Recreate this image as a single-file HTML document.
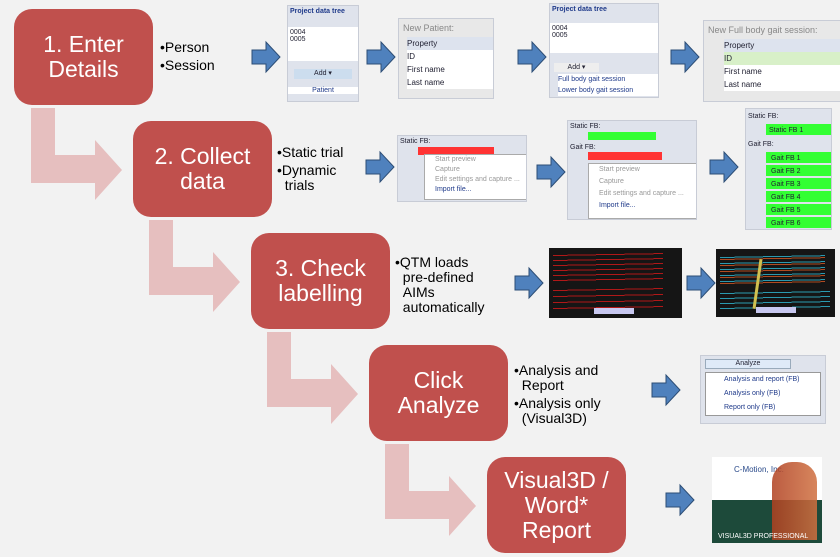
<!DOCTYPE html>
<html><head><style>
body{margin:0;width:840px;height:557px;background:#f2f2f2;position:relative;overflow:hidden;font-family:"Liberation Sans",Arial,sans-serif}
.b{position:absolute;width:139px;height:96px;background:#c0504d;border-radius:18px;color:#fff;font-size:23px;line-height:25px;text-align:center;display:flex;align-items:center;justify-content:center}
.t{position:absolute;font-size:14px;line-height:15px;color:#000}
.s{position:absolute;background:#dfe3ec;border:1px solid #c8ccd6;overflow:hidden;font-size:7px;color:#223}
svg{position:absolute;left:0;top:0}
</style></head><body>
<svg width="840" height="557">
<defs><path id="a" d="M0 8h14v-8l14 15l-14 15v-8h-14z"/></defs>
<g fill="#e6bfbf">
<path d="M31 108h24v47h40v-15l27 30l-27 30v-17h-64z"/>
<path d="M149 220h24v47h40v-15l27 30l-27 30v-17h-64z"/>
<path d="M267 332h24v47h40v-15l27 30l-27 30v-17h-64z"/>
<path d="M385 444h24v47h40v-15l27 30l-27 30v-17h-64z"/>
</g>
<g fill="#4f81bd" stroke="#2c4d75">
<use href="#a" x="252" y="42"/><use href="#a" x="367" y="42"/><use href="#a" x="518" y="42"/><use href="#a" x="671" y="42"/>
<use href="#a" x="366" y="152"/><use href="#a" x="537" y="157"/><use href="#a" x="710" y="152"/>
<use href="#a" x="515" y="268"/><use href="#a" x="687" y="268"/>
<use href="#a" x="652" y="375"/><use href="#a" x="666" y="485"/>
</g>
</svg>
<div class="b" style="left:14px;top:9px">1. Enter<br>Details</div>
<div class="b" style="left:133px;top:121px">2. Collect<br>data</div>
<div class="b" style="left:251px;top:233px">3. Check<br>labelling</div>
<div class="b" style="left:369px;top:345px">Click<br>Analyze</div>
<div class="b" style="left:487px;top:457px">Visual3D /<br>Word*<br>Report</div>
<div class="t" style="left:160px;top:40px">•Person<br><span style="line-height:20px">•Session</span></div>
<div class="t" style="left:277px;top:145px">•Static trial<br><span style="display:block;margin-top:3px">•Dynamic<br>&nbsp;&nbsp;trials</span></div>
<div class="t" style="left:395px;top:255px">•QTM loads<br>&nbsp;&nbsp;pre-defined<br>&nbsp;&nbsp;AIMs<br>&nbsp;&nbsp;automatically</div>
<div class="t" style="left:514px;top:363px">•Analysis and<br>&nbsp;&nbsp;Report<br><span style="display:block;margin-top:3px">•Analysis only<br>&nbsp;&nbsp;(Visual3D)</span></div>
<div class="s" style="left:287px;top:5px;width:70px;height:95px"><div style="padding:2px;font-weight:bold;color:#1f3a8a">Project data tree</div><div style="background:#fff;height:30px;margin-top:10px;padding:2px">0004<br>0005</div><div style="margin:8px 6px;background:#cde;height:10px;text-align:center">Add ▾</div><div style="background:#fff;text-align:center;color:#1f3a8a">Patient</div></div>
<div class="s" style="left:398px;top:18px;width:94px;height:79px;background:#e8e8e8"><div style="padding:4px;color:#888;font-size:9px">New Patient:</div><div style="margin-left:8px;background:#fff;font-size:8px;line-height:13px"><div style="background:#dde3ee">Property</div>ID<br>First name<br>Last name</div></div>
<div class="s" style="left:549px;top:3px;width:108px;height:93px"><div style="padding:2px;font-weight:bold;color:#1f3a8a">Project data tree</div><div style="background:#fff;height:26px;margin-top:8px;padding:2px">0004<br>0005</div><div style="margin:10px 4px 2px;height:9px;background:#eee;width:45px;text-align:center">Add ▾</div><div style="background:#fff;margin-left:8px;color:#1f3a8a;line-height:11px">Full body gait session<br>Lower body gait session</div></div>
<div class="s" style="left:703px;top:20px;width:137px;height:80px;background:#e8e8e8"><div style="padding:4px;color:#888;font-size:9px">New Full body gait session:</div><div style="margin-left:20px;background:#fff;font-size:8px;line-height:13px"><div style="background:#dde3ee">Property</div><div style="background:#d8f0c8">ID</div>First name<br>Last name</div></div>
<div class="s" style="left:397px;top:135px;width:128px;height:65px"><div style="padding:2px">Static FB:</div><div style="margin-left:20px;background:#f33;height:8px;width:76px"></div><div style="position:absolute;left:26px;top:18px;width:106px;height:44px;background:#fff;border:1px solid #aaa;color:#999;line-height:10px;padding-left:10px">Start preview<br>Capture<br>Edit settings and capture ...<br><span style="color:#1f3a8a">Import file...</span></div></div>
<div class="s" style="left:567px;top:120px;width:128px;height:98px"><div style="padding:2px">Static FB:</div><div style="margin-left:20px;background:#3f3;height:8px;width:68px"></div><div style="padding:4px 2px 1px">Gait FB:</div><div style="margin-left:20px;background:#f33;height:8px;width:74px"></div><div style="position:absolute;left:20px;top:42px;width:100px;height:54px;background:#fff;border:1px solid #aaa;color:#999;line-height:12px;padding-left:10px">Start preview<br>Capture<br>Edit settings and capture ...<br><span style="color:#1f3a8a">Import file...</span></div></div>
<div class="s" style="left:745px;top:108px;width:85px;height:120px;line-height:13px"><div style="padding:1px 2px">Static FB:</div><div style="margin-left:20px;background:#3f3;height:11px;width:62px;padding-left:3px">Static FB 1</div><div style="padding:3px 2px 1px">Gait FB:</div>
<div style="margin:0 0 2px 20px;background:#3f3;height:11px;width:60px;padding-left:5px">Gait FB 1</div><div style="margin:0 0 2px 20px;background:#3f3;height:11px;width:60px;padding-left:5px">Gait FB 2</div><div style="margin:0 0 2px 20px;background:#3f3;height:11px;width:60px;padding-left:5px">Gait FB 3</div><div style="margin:0 0 2px 20px;background:#3f3;height:11px;width:60px;padding-left:5px">Gait FB 4</div><div style="margin:0 0 2px 20px;background:#3f3;height:11px;width:60px;padding-left:5px">Gait FB 5</div><div style="margin:0 0 2px 20px;background:#3f3;height:11px;width:60px;padding-left:5px">Gait FB 6</div></div>
<div style="position:absolute;left:549px;top:248px;width:133px;height:70px;background:#151515;overflow:hidden">
<div style="position:absolute;left:4px;top:5px;width:110px;height:30px;background:repeating-linear-gradient(179deg,transparent 0 2px,#b01818 2px 3px,transparent 3px 5px)"></div>
<div style="position:absolute;left:4px;top:40px;width:110px;height:22px;background:repeating-linear-gradient(179deg,transparent 0 2px,#b01818 2px 3px,transparent 3px 6px)"></div>
<div style="position:absolute;left:45px;top:60px;width:40px;height:6px;background:#c8c8f0"></div></div>
<div style="position:absolute;left:716px;top:249px;width:119px;height:68px;background:#151515;overflow:hidden">
<div style="position:absolute;left:4px;top:6px;width:105px;height:30px;background:repeating-linear-gradient(179deg,transparent 0 2px,#2a9ab0 2px 3px,transparent 3px 4px,#b04a20 4px 5px,transparent 5px 6px)"></div>
<div style="position:absolute;left:4px;top:42px;width:110px;height:20px;background:repeating-linear-gradient(179deg,transparent 0 2px,#2a9ab0 2px 3px,transparent 3px 5px)"></div>
<div style="position:absolute;left:40px;top:10px;width:3px;height:50px;background:#d0c050;transform:rotate(8deg)"></div>
<div style="position:absolute;left:40px;top:58px;width:40px;height:6px;background:#c8c8f0"></div></div>
<div class="s" style="left:700px;top:355px;width:124px;height:67px"><div style="margin:3px 4px;background:#dfeaf8;border:1px solid #9ab;height:8px;width:84px;text-align:center;font-size:7px;line-height:8px">Analyze</div><div style="margin:0 4px;background:#fff;border:1px solid #999;color:#1f3a8a;line-height:14px;padding-left:18px;font-size:7px">Analysis and report (FB)<br>Analysis only (FB)<br>Report only (FB)</div></div>
<div style="position:absolute;left:712px;top:457px;width:110px;height:86px;background:#1d4a3a;overflow:hidden"><div style="background:#fff;height:35px;color:#2a4a8a;font-size:8px;padding:8px 0 0 22px">C-Motion, Inc.</div><div style="position:absolute;left:60px;top:5px;width:45px;height:78px;background:linear-gradient(90deg,#b04020,#d07040);border-radius:20px 20px 0 0;opacity:.85"></div><div style="position:absolute;left:6px;bottom:3px;color:#fff;font-size:7px">VISUAL3D PROFESSIONAL</div></div>
</body></html>
